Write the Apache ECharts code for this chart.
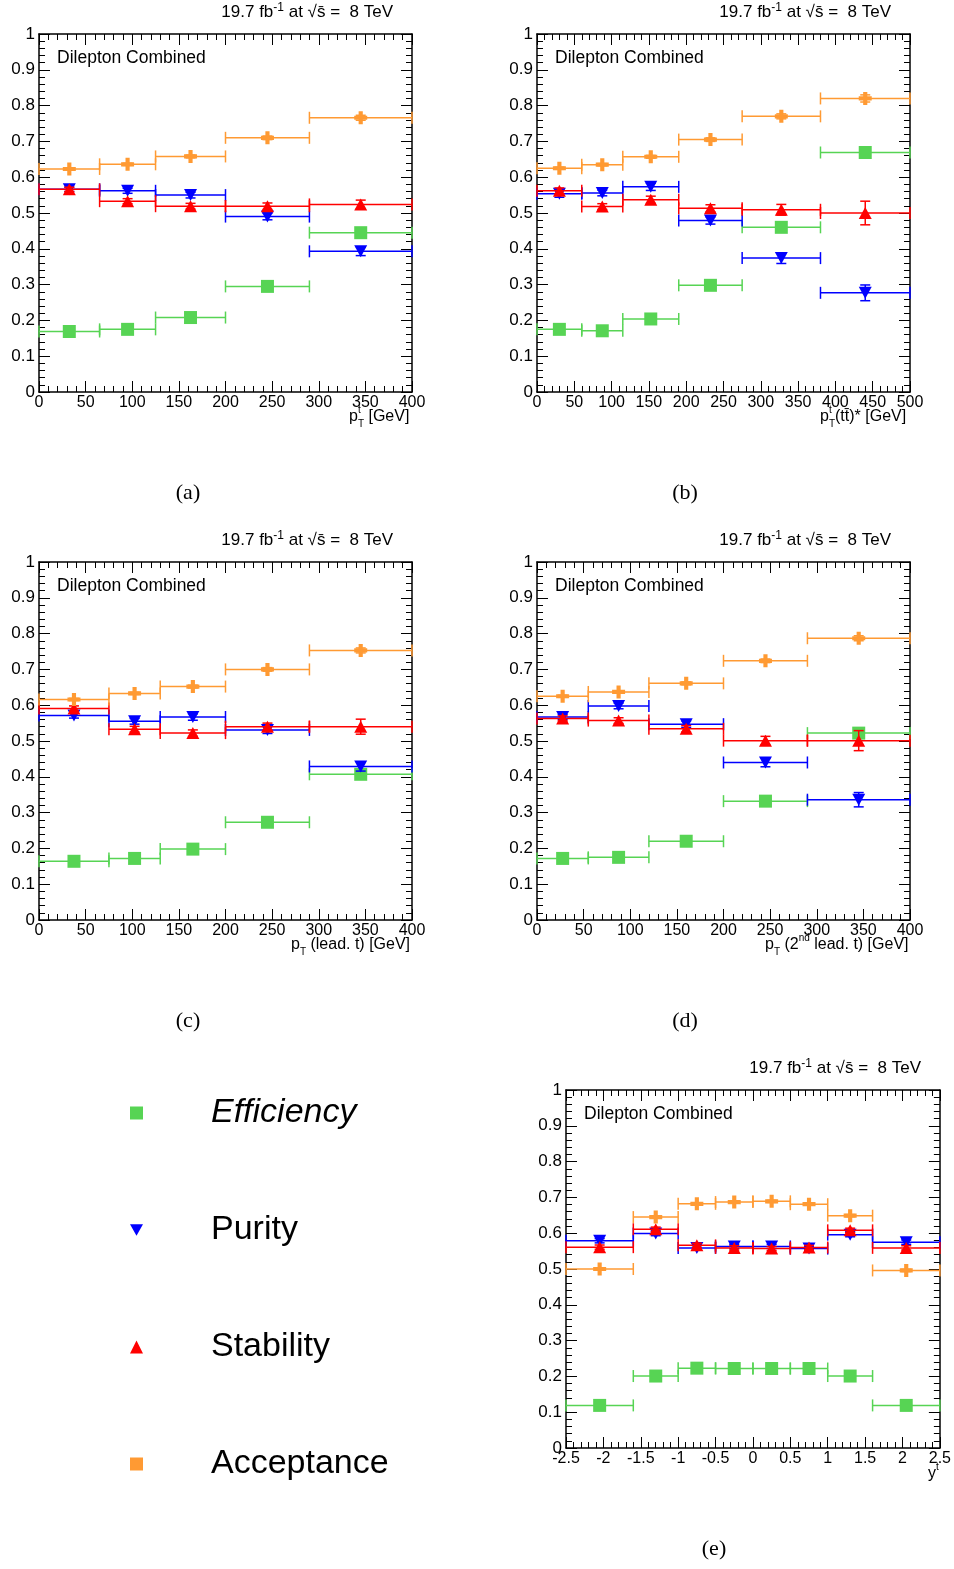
<!DOCTYPE html>
<html><head><meta charset="utf-8">
<script src="https://cdn.jsdelivr.net/npm/echarts@6/dist/echarts.min.js"></script>
<style>html,body{margin:0;padding:0;background:#fff}#c{width:954px;height:1569px}</style>
</head><body><div id="c"></div>
<script>
// ---------- DATA ----------
// (a) pT of top
const aEdges = [0, 65, 125, 200, 290, 400];
const aEff  = [0.169, 0.175, 0.208, 0.295, 0.445];
const aPur  = [0.566, 0.562, 0.550, 0.490, 0.393];
const aStab = [0.566, 0.533, 0.519, 0.519, 0.524];
const aAcc  = [0.623, 0.636, 0.658, 0.710, 0.766];
const aEffErr  = [0.002, 0.002, 0.003, 0.004, 0.006];
const aPurErr  = [0.006, 0.007, 0.008, 0.009, 0.012];
const aStabErr = [0.006, 0.007, 0.008, 0.009, 0.012];
const aAccErr  = [0.003, 0.003, 0.004, 0.005, 0.007];
// (b) pT of top in ttbar rest frame
const bEdges = [0, 60, 115, 190, 275, 380, 500];
const bEff  = [0.175, 0.171, 0.204, 0.298, 0.460, 0.669];
const bPur  = [0.554, 0.556, 0.573, 0.479, 0.374, 0.277];
const bStab = [0.562, 0.518, 0.537, 0.513, 0.509, 0.500];
const bAcc  = [0.625, 0.635, 0.657, 0.705, 0.770, 0.820];
const bEffErr  = [0.002, 0.002, 0.003, 0.004, 0.006, 0.010];
const bPurErr  = [0.010, 0.008, 0.010, 0.010, 0.015, 0.022];
const bStabErr = [0.008, 0.008, 0.010, 0.010, 0.015, 0.033];
const bAccErr  = [0.003, 0.003, 0.004, 0.005, 0.007, 0.010];
// (c) pT of leading top
const cEdges = [0, 75, 130, 200, 290, 400];
const cEff  = [0.164, 0.172, 0.198, 0.273, 0.407];
const cPur  = [0.571, 0.555, 0.567, 0.531, 0.429];
const cStab = [0.591, 0.533, 0.522, 0.540, 0.540];
const cAcc  = [0.616, 0.633, 0.652, 0.700, 0.753];
const cEffErr  = [0.002, 0.002, 0.003, 0.004, 0.006];
const cPurErr  = [0.007, 0.008, 0.009, 0.010, 0.013];
const cStabErr = [0.007, 0.008, 0.009, 0.010, 0.021];
const cAccErr  = [0.003, 0.003, 0.004, 0.005, 0.007];
// (d) pT of 2nd leading top
const dEdges = [0, 55, 120, 200, 290, 400];
const dEff  = [0.172, 0.175, 0.220, 0.332, 0.522];
const dPur  = [0.567, 0.598, 0.547, 0.440, 0.336];
const dStab = [0.563, 0.557, 0.534, 0.501, 0.501];
const dAcc  = [0.625, 0.637, 0.661, 0.724, 0.787];
const dEffErr  = [0.002, 0.002, 0.003, 0.005, 0.008];
const dPurErr  = [0.007, 0.008, 0.009, 0.012, 0.020];
const dStabErr = [0.007, 0.008, 0.009, 0.012, 0.028];
const dAccErr  = [0.003, 0.003, 0.004, 0.005, 0.007];
// (e) rapidity of top
const eEdges = [-2.5, -1.6, -1, -0.5, 0, 0.5, 1, 1.6, 2.5];
const eEff  = [0.119, 0.201, 0.223, 0.222, 0.222, 0.222, 0.201, 0.119];
const ePur  = [0.579, 0.599, 0.559, 0.563, 0.563, 0.557, 0.596, 0.575];
const eStab = [0.561, 0.611, 0.566, 0.559, 0.557, 0.560, 0.608, 0.559];
const eAcc  = [0.500, 0.645, 0.682, 0.687, 0.689, 0.681, 0.649, 0.496];
const eEffErr  = [0.002, 0.002, 0.002, 0.002, 0.002, 0.002, 0.002, 0.002];
const ePurErr  = [0.006, 0.006, 0.006, 0.006, 0.006, 0.006, 0.006, 0.006];
const eStabErr = [0.006, 0.006, 0.006, 0.006, 0.006, 0.006, 0.006, 0.006];
const eAccErr  = [0.003, 0.003, 0.003, 0.003, 0.003, 0.003, 0.003, 0.003];

const seriesNames = ['Efficiency', 'Purity', 'Stability', 'Acceptance'];
const xTickSteps = [50, 50, 50, 50, 0.5];
const panelLetters = ['(a)', '(b)', '(c)', '(d)', '(e)'];
const lumiLabel = '19.7 fb';
const energyLabel = ' at √s̄ =  8 TeV';
const channelLabel = 'Dilepton Combined';

// ---------- STYLE / LAYOUT ----------
const FONT = 'Liberation Sans';
const COLORS = ['#57d454', '#0000ff', '#ff0000', '#ff9a33'];
const DOWN_TRI = 'path://M0,0 L10,0 L5,9 Z';
const CROSS = 'path://M3.4,0 H6.6 V3.4 H10 V6.6 H6.6 V10 H3.4 V6.6 H0 V3.4 H3.4 Z';
const SYMBOLS = [['rect', 13], [DOWN_TRI, [13, 12]], ['triangle', [13, 12]], [CROSS, 13]];
const LAYOUT = [
  {left: 39, top: 34, width: 373, height: 358},
  {left: 537, top: 34, width: 373, height: 358},
  {left: 39, top: 562, width: 373, height: 358},
  {left: 537, top: 562, width: 373, height: 358},
  {left: 566, top: 1090, width: 374, height: 358}
];
const panels = [
  {edges: aEdges, vals: [aEff, aPur, aStab, aAcc], errs: [aEffErr, aPurErr, aStabErr, aAccErr]},
  {edges: bEdges, vals: [bEff, bPur, bStab, bAcc], errs: [bEffErr, bPurErr, bStabErr, bAccErr]},
  {edges: cEdges, vals: [cEff, cPur, cStab, cAcc], errs: [cEffErr, cPurErr, cStabErr, cAccErr]},
  {edges: dEdges, vals: [dEff, dPur, dStab, dAcc], errs: [dEffErr, dPurErr, dStabErr, dAccErr]},
  {edges: eEdges, vals: [eEff, ePur, eStab, eAcc], errs: [eEffErr, ePurErr, eStabErr, eAccErr]}
];

function errRender(params, api) {
  const xlo = api.value(0), xhi = api.value(1), y = api.value(2), ye = api.value(3), xc = api.value(4);
  const p1 = api.coord([xlo, y]), p2 = api.coord([xhi, y]);
  const c = api.visual('color');
  const st = {stroke: c, lineWidth: 1.5};
  const cap = 6;
  const ch = [
    {type: 'line', shape: {x1: p1[0], y1: p1[1], x2: p2[0], y2: p2[1]}, style: st},
    {type: 'line', shape: {x1: p1[0], y1: p1[1] - cap, x2: p1[0], y2: p1[1] + cap}, style: st},
    {type: 'line', shape: {x1: p2[0], y1: p2[1] - cap, x2: p2[0], y2: p2[1] + cap}, style: st}
  ];
  if (ye > 0) {
    const pt = api.coord([xc, y + ye]), pb = api.coord([xc, y - ye]);
    ch.push({type: 'line', shape: {x1: pt[0], y1: pt[1], x2: pb[0], y2: pb[1]}, style: st});
    ch.push({type: 'line', shape: {x1: pt[0] - 5, y1: pt[1], x2: pt[0] + 5, y2: pt[1]}, style: st});
    ch.push({type: 'line', shape: {x1: pb[0] - 5, y1: pb[1], x2: pb[0] + 5, y2: pb[1]}, style: st});
  }
  return {type: 'group', children: ch};
}

const grids = [], xAxes = [], yAxes = [], series = [], graphics = [];
const axisLine = {show: true, onZero: false, lineStyle: {color: '#000', width: 1.5}};
const tickStyle = {color: '#000', width: 1};

panels.forEach((p, i) => {
  const L = LAYOUT[i];
  grids.push({left: L.left, top: L.top, width: L.width, height: L.height, containLabel: false});
  const xmin = p.edges[0], xmax = p.edges[p.edges.length - 1];
  ['bottom', 'top'].forEach(pos => {
    xAxes.push({
      gridIndex: i, type: 'value', position: pos, min: xmin, max: xmax, interval: xTickSteps[i],
      axisLine: axisLine,
      axisTick: {show: true, inside: true, length: 11, lineStyle: tickStyle},
      minorTick: {show: true, splitNumber: 5, length: 6, lineStyle: tickStyle},
      splitLine: {show: false},
      axisLabel: {show: pos === 'bottom', color: '#000', fontFamily: FONT, fontSize: 16, margin: 3}
    });
  });
  ['left', 'right'].forEach(pos => {
    yAxes.push({
      gridIndex: i, type: 'value', position: pos, min: 0, max: 1, interval: 0.1,
      axisLine: axisLine,
      axisTick: {show: true, inside: true, length: 11, lineStyle: tickStyle},
      minorTick: {show: true, splitNumber: 5, length: 6, lineStyle: tickStyle},
      splitLine: {show: false},
      axisLabel: {show: pos === 'left', color: '#000', fontFamily: FONT, fontSize: 17, margin: 4}
    });
  });
  const xi = 2 * i, yi = 2 * i;
  seriesNames.forEach((name, k) => {
    const vals = p.vals[k], errs = p.errs[k];
    const errData = vals.map((v, j) => [p.edges[j], p.edges[j + 1], v, errs[j], (p.edges[j] + p.edges[j + 1]) / 2]);
    series.push({
      type: 'custom', name: name + ' bars', xAxisIndex: xi, yAxisIndex: yi,
      renderItem: errRender, data: errData, itemStyle: {color: COLORS[k]},
      encode: {x: [0, 1, 4], y: [2]}, silent: true, z: 2 + k * 2
    });
    series.push({
      type: 'scatter', name: name, xAxisIndex: xi, yAxisIndex: yi,
      symbol: SYMBOLS[k][0], symbolSize: SYMBOLS[k][1],
      itemStyle: {color: COLORS[k], opacity: 1},
      data: vals.map((v, j) => [(p.edges[j] + p.edges[j + 1]) / 2, v]),
      z: 3 + k * 2, silent: true
    });
  });

  // texts
  graphics.push({
    type: 'text', x: L.left + L.width - 19, y: L.top - 22,
    style: {
      text: '{a|' + lumiLabel + '}{s|-1}{a|' + energyLabel + '}',
      textAlign: 'right', textVerticalAlign: 'middle', fill: '#000',
      rich: {
        a: {fontFamily: FONT, fontSize: 17, lineHeight: 21, fill: '#000'},
        s: {fontFamily: FONT, fontSize: 12, lineHeight: 12, verticalAlign: 'top', fill: '#000'}
      }
    }
  });
  graphics.push({
    type: 'text', x: L.left + 18, y: L.top + 24,
    style: {text: channelLabel, font: '17.5px ' + FONT, fill: '#000', textAlign: 'left', textVerticalAlign: 'middle'}
  });
});

const rich = {
  n: {fontFamily: FONT, fontSize: 16, lineHeight: 24, fill: '#000'},
  sup: {fontFamily: FONT, fontSize: 10, lineHeight: 12, verticalAlign: 'top', fill: '#000', width: 0.01},
  supw: {fontFamily: FONT, fontSize: 10, lineHeight: 12, verticalAlign: 'top', fill: '#000'},
  sub: {fontFamily: FONT, fontSize: 10, lineHeight: 12, verticalAlign: 'bottom', fill: '#000'}
};
const axisTitles = [
  {x: 349, y: 417, t: '{n|p}{sup|t}{sub|T}{n| [GeV]}'},
  {x: 820, y: 417, t: '{n|p}{sup|t}{sub|T}{n|(tt̄)* [GeV]}'},
  {x: 291, y: 945, t: '{n|p}{sub|T}{n| (lead. t) [GeV]}'},
  {x: 765, y: 945, t: '{n|p}{sub|T}{n| (2}{supw|nd}{n| lead. t) [GeV]}'},
  {x: 928, y: 1474, t: '{n|y}{supw|t}'}
];
axisTitles.forEach(a => graphics.push({
  type: 'text', x: a.x, y: a.y,
  style: {text: a.t, rich: rich, textAlign: 'left', textVerticalAlign: 'middle', fill: '#000'}
}));
const captionPos = [[188, 493], [685, 493], [188, 1021], [685, 1021], [714, 1549]];
captionPos.forEach((c, i) => graphics.push({
  type: 'text', x: c[0], y: c[1],
  style: {text: panelLetters[i], font: '22px "Liberation Serif"', fill: '#000', textAlign: 'center', textVerticalAlign: 'middle'}
}));

const chart = echarts.init(document.getElementById('c'), null, {renderer: 'canvas'});
chart.setOption({
  animation: false,
  backgroundColor: '#fff',
  grid: grids, xAxis: xAxes, yAxis: yAxes, series: series, graphic: graphics,
  legend: {
    orient: 'vertical', left: 125, top: 1088, itemWidth: 13, itemHeight: 13, itemGap: 77,
    selectedMode: false,
    data: [
      {name: 'Efficiency', icon: 'rect', textStyle: {fontStyle: 'italic'}},
      {name: 'Purity', icon: DOWN_TRI},
      {name: 'Stability', icon: 'triangle'},
      {name: 'Acceptance', icon: 'rect'}
    ],
    textStyle: {fontFamily: FONT, fontSize: 34, color: '#000', padding: [0, 0, 0, 63], lineHeight: 40}
  }
});
</script></body></html>
